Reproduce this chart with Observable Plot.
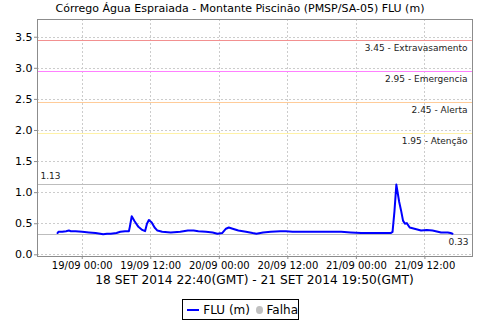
<!DOCTYPE html>
<html>
<head>
<meta charset="utf-8">
<script src="https://cdn.jsdelivr.net/npm/d3@7"></script>
<script src="https://cdn.jsdelivr.net/npm/@observablehq/plot@0.6"></script>
<style>
  body { margin: 0; background: #fff; }
  #wrap { position: relative; width: 480px; height: 320px; overflow: hidden; background: #fff; font-family: "DejaVu Sans", sans-serif; color: #000; }
  #title { position: absolute; left: 0; top: 2px; width: 480px; text-align: center; font-size: 11px; white-space: nowrap; }
  #chart { position: absolute; left: 0; top: 0; }
  #subtitle { position: absolute; left: 37px; width: 435px; top: 273px; text-align: center; font-size: 12.2px; white-space: nowrap; }
  #legend { position: absolute; left: 182px; top: 299px; width: 115px; height: 19px; border: 1px solid #000; font-size: 12px; display: flex; align-items: center; white-space: nowrap; }
  #legend .ln { display: inline-block; width: 15px; height: 2px; background: #0000ff; margin-left: 4px; margin-right: 4px; }
  #legend .dot { display: inline-block; width: 8px; height: 8px; border-radius: 50%; background: #c0c0c0; margin-left: 6px; margin-right: 4px; }
</style>
</head>
<body>
<div id="wrap">
  <div id="chart"></div>
  <div id="title"></div>
  <div id="subtitle"></div>
  <div id="legend"><span class="ln"></span><span>FLU (m)</span><span class="dot"></span><span>Falha</span></div>
</div>
<script>
const chartTitle = "Córrego Água Espraiada - Montante Piscinão (PMSP/SA-05) FLU (m)";
const subtitleText = "18 SET 2014 22:40(GMT) - 21 SET 2014 19:50(GMT)";

// Readings (local time), FLU (m)
const times = [
  "2014-09-18 19:40","2014-09-18 19:50","2014-09-18 20:30","2014-09-18 21:10","2014-09-18 21:40",
  "2014-09-18 22:00","2014-09-18 22:50","2014-09-19 00:00","2014-09-19 01:10","2014-09-19 02:20",
  "2014-09-19 03:10","2014-09-19 03:40","2014-09-19 04:20","2014-09-19 05:00","2014-09-19 06:00",
  "2014-09-19 06:40","2014-09-19 07:30","2014-09-19 08:10","2014-09-19 08:20","2014-09-19 08:40",
  "2014-09-19 09:10","2014-09-19 09:50","2014-09-19 10:30","2014-09-19 11:00","2014-09-19 11:20",
  "2014-09-19 11:40","2014-09-19 12:10","2014-09-19 12:40","2014-09-19 13:10","2014-09-19 14:00",
  "2014-09-19 15:30","2014-09-19 17:10","2014-09-19 18:30","2014-09-19 19:30","2014-09-19 20:20",
  "2014-09-19 21:40","2014-09-19 22:50","2014-09-19 23:40","2014-09-20 00:30","2014-09-20 01:10",
  "2014-09-20 01:40","2014-09-20 02:20","2014-09-20 03:20","2014-09-20 04:40","2014-09-20 05:50",
  "2014-09-20 06:30","2014-09-20 07:40","2014-09-20 09:00","2014-09-20 10:40","2014-09-20 11:40",
  "2014-09-20 12:50","2014-09-20 14:10","2014-09-20 17:40","2014-09-20 21:20","2014-09-20 23:00",
  "2014-09-21 00:50","2014-09-21 03:20","2014-09-21 06:00","2014-09-21 06:20","2014-09-21 06:40",
  "2014-09-21 07:00","2014-09-21 07:30","2014-09-21 07:50","2014-09-21 08:10","2014-09-21 08:30",
  "2014-09-21 08:50","2014-09-21 09:20","2014-09-21 10:10","2014-09-21 11:20","2014-09-21 12:20",
  "2014-09-21 13:20","2014-09-21 14:50","2014-09-21 16:00","2014-09-21 16:30","2014-09-21 16:50"
];
const levels = [
  0.35,0.37,0.37,0.38,0.39,
  0.38,0.38,0.37,0.36,0.35,
  0.34,0.33,0.34,0.34,0.35,
  0.37,0.38,0.38,0.45,0.62,
  0.54,0.45,0.40,0.38,0.50,
  0.56,0.52,0.44,0.39,0.37,
  0.36,0.37,0.39,0.39,0.38,
  0.37,0.36,0.34,0.35,0.42,
  0.44,0.42,0.39,0.37,0.35,
  0.34,0.36,0.37,0.38,0.38,
  0.37,0.37,0.37,0.37,0.36,
  0.35,0.35,0.35,0.37,0.70,
  1.13,0.85,0.71,0.55,0.50,
  0.51,0.44,0.42,0.39,0.40,
  0.39,0.36,0.36,0.35,0.34
];

// Alert thresholds
const thresholdValues = [3.45, 2.95, 2.45, 1.95];
const thresholdNames = ["Extravasamento", "Emergencia", "Alerta", "Atenção"];
const thresholdColors = ["#f29090", "#ff80ff", "#ffcc99", "#fff2a8"];

// Axes
const yTicks = [0, 0.5, 1.0, 1.5, 2.0, 2.5, 3.0, 3.5];
const xTickStrings = ["2014-09-19 00:00","2014-09-19 12:00","2014-09-20 00:00","2014-09-20 12:00","2014-09-21 00:00","2014-09-21 12:00"];
const xDomainStrings = ["2014-09-18 16:10", "2014-09-21 20:20"];
const yDomain = [-0.027, 3.785];

const parse = d3.utcParse("%Y-%m-%d %H:%M");
const data = times.map((t, i) => ({date: parse(t), value: levels[i]}));
const thresholds = thresholdValues.map((v, i) => ({value: v, label: d3.format(".2f")(v) + " - " + thresholdNames[i], color: thresholdColors[i]}));
const maxVal = d3.max(levels);
const minVal = d3.min(levels);

document.getElementById("title").textContent = chartTitle;
document.getElementById("subtitle").textContent = subtitleText;

const crisp = {shapeRendering: "crispEdges"};
const plot = Plot.plot({
  width: 480,
  height: 282,
  marginTop: 19,
  marginLeft: 37,
  marginRight: 8,
  marginBottom: 26,
  style: {fontFamily: "DejaVu Sans, sans-serif", fontSize: "10px", color: "#000", background: "transparent"},
  x: {type: "utc", domain: xDomainStrings.map(parse), ticks: xTickStrings.map(parse), tickFormat: d3.utcFormat("%d/%m %H:%M"), label: null, tickSize: 3, tickPadding: 2},
  y: {domain: yDomain, ticks: yTicks, tickFormat: d3.format(".1f"), label: null, tickSize: 3, tickPadding: 2},
  marks: [
    Plot.gridY(yTicks, {stroke: "#cccccc", strokeOpacity: 1, strokeDasharray: "2,2", ...crisp}),
    Plot.gridX(xTickStrings.map(parse), {stroke: "#cccccc", strokeOpacity: 1, strokeDasharray: "2,2", ...crisp}),
    Plot.ruleY(thresholds, {y: "value", stroke: "color", strokeWidth: 1, ...crisp}),
    Plot.ruleY([maxVal, minVal], {stroke: "#bdbdbd", strokeWidth: 1, ...crisp}),
    Plot.text(thresholds, {y: "value", text: "label", frameAnchor: "right", textAnchor: "end", dx: -5, dy: 8, fontSize: 9, fill: "#222"}),
    Plot.text([maxVal], {y: d => d, text: d => d3.format(".2f")(d), frameAnchor: "left", textAnchor: "start", dx: 3, dy: -8, fontSize: 9, fill: "#222"}),
    Plot.text([minVal], {y: d => d, text: d => d3.format(".2f")(d), frameAnchor: "right", textAnchor: "end", dx: -4, dy: 8, fontSize: 9, fill: "#222"}),
    Plot.lineY(data, {x: "date", y: "value", stroke: "#0000ff", strokeWidth: 2}),
    Plot.frame({stroke: "#8c8c8c", ...crisp}),
    Plot.axisY({ticks: yTicks, tickFormat: d3.format(".1f"), tickSize: 3, tickPadding: 2, stroke: "#8c8c8c", fontSize: 11}),
    Plot.axisX({ticks: xTickStrings.map(parse), tickFormat: d3.utcFormat("%d/%m %H:%M"), tickSize: 3, tickPadding: 2, stroke: "#8c8c8c", fontSize: 10})
  ]
});
document.getElementById("chart").appendChild(plot);
</script>
</body>
</html>
